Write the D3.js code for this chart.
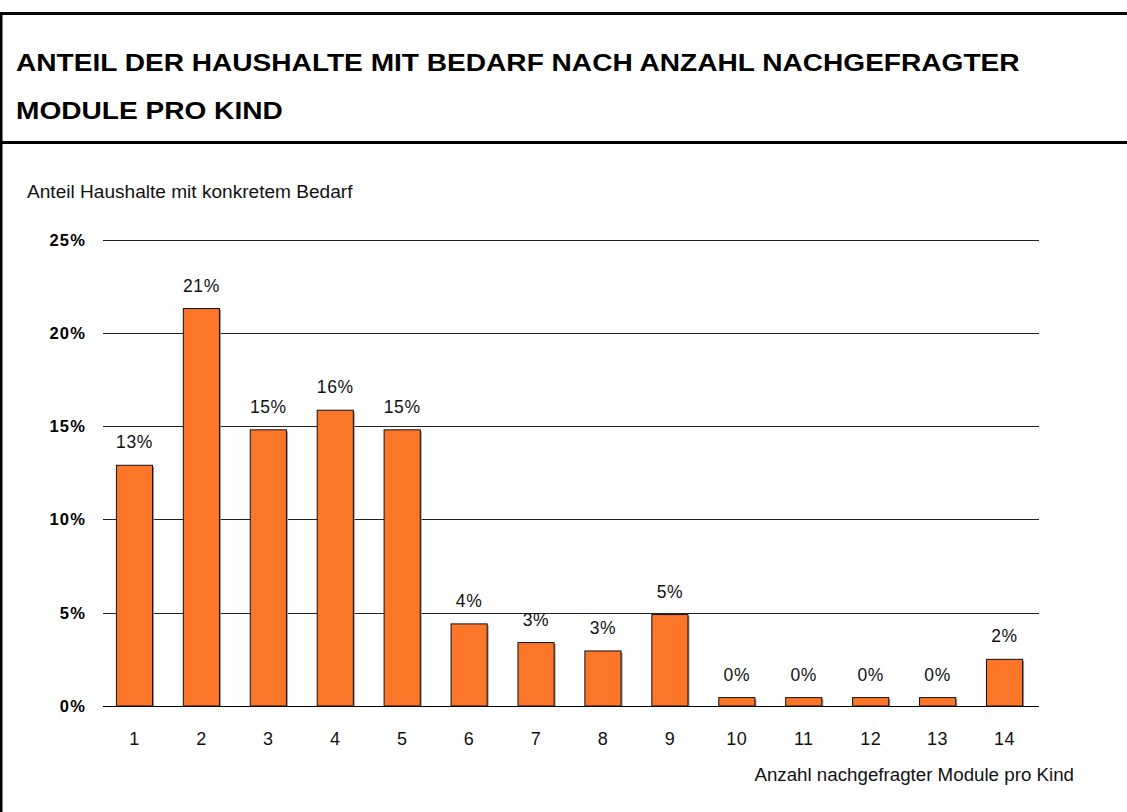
<!DOCTYPE html>
<html>
<head>
<meta charset="utf-8">
<script src="https://cdn.jsdelivr.net/npm/d3@7"></script>
<style>
  body { margin: 0; background: #fff; }
  svg { display: block; font-family: "Liberation Sans", Arial, sans-serif; }
</style>
</head>
<body>
<svg id="chart" width="1127" height="812"></svg>
<script>
// data
var modules = ["1","2","3","4","5","6","7","8","9","10","11","12","13","14"];
var shares = [12.9, 21.3, 14.8, 15.85, 14.8, 4.4, 3.4, 2.95, 4.9, 0.45, 0.45, 0.45, 0.45, 2.5];
var shareLabels = ["13%","21%","15%","16%","15%","4%","3%","3%","5%","0%","0%","0%","0%","2%"];
var yTicks = [0, 5, 10, 15, 20, 25];
var titleLines = ["ANTEIL DER HAUSHALTE MIT BEDARF NACH ANZAHL NACHGEFRAGTER", "MODULE PRO KIND"];
var yTitle = "Anteil Haushalte mit konkretem Bedarf";
var xTitle = "Anzahl nachgefragter Module pro Kind";

var svg = d3.select("#chart");
var W = 1127, H = 812;

// the original text is drawn a bit wider than the font, stretch it
function stretch(sel, k) {
    sel.each(function() {
        var len = this.getComputedTextLength();
        d3.select(this)
            .attr("textLength", len * k)
            .attr("lengthAdjust", "spacingAndGlyphs");
    });
}

// frame
svg.append("line").attr("x1", 0).attr("x2", W).attr("y1", 13.5).attr("y2", 13.5)
    .attr("stroke", "#000").attr("stroke-width", 3);
svg.append("line").attr("x1", 0).attr("x2", W).attr("y1", 142.5).attr("y2", 142.5)
    .attr("stroke", "#000").attr("stroke-width", 3);
svg.append("line").attr("x1", 1).attr("x2", 1).attr("y1", 12).attr("y2", H)
    .attr("stroke", "#000").attr("stroke-width", 3);

// title
svg.selectAll(".title")
    .data(titleLines)
    .enter()
    .append("text")
    .attr("class", "title")
    .attr("x", 16)
    .attr("y", function(d, i) { return 71 + i * 47.5; })
    .style("font-size", "24px")
    .style("font-weight", "bold")
    .attr("fill", "#000")
    .text(function(d) { return d; })
    .call(stretch, 1.17);

var x = d3.scaleBand()
    .domain(modules)
    .range([101, 1038])
    .paddingInner(0.46)
    .paddingOuter(0.23);

var y = d3.scaleLinear()
    .domain([0, 25])
    .range([706, 239.5]);

// gridlines
svg.append("g")
    .selectAll("line")
    .data(yTicks)
    .enter()
    .append("line")
    .attr("x1", 103)
    .attr("x2", 1039)
    .attr("y1", function(d) { return Math.round(y(d)) + 0.5; })
    .attr("y2", function(d) { return Math.round(y(d)) + 0.5; })
    .attr("stroke", function(d) { return d === 0 ? "#000" : "#222"; })
    .attr("stroke-width", 1);

// y tick labels
svg.append("g")
    .selectAll("text")
    .data(yTicks)
    .enter()
    .append("text")
    .attr("x", 86)
    .attr("y", function(d) { return y(d) + 6; })
    .attr("text-anchor", "end")
    .style("font-size", "16.5px")
    .style("font-weight", "bold")
    .style("letter-spacing", "1.2px")
    .attr("fill", "#000")
    .text(function(d) { return d + "%"; });

// bar shadows
svg.append("g")
    .selectAll("rect")
    .data(shares)
    .enter()
    .append("rect")
    .attr("x", function(d, i) { return x(modules[i]) + 1.5; })
    .attr("y", function(d) { return y(d) + 1.5; })
    .attr("width", x.bandwidth())
    .attr("height", function(d) { return y(0) - y(d) - 1.5; })
    .attr("fill", "#9a9a9a");

// bars
svg.append("g")
    .selectAll("rect")
    .data(shares)
    .enter()
    .append("rect")
    .attr("x", function(d, i) { return x(modules[i]); })
    .attr("y", function(d) { return y(d); })
    .attr("width", x.bandwidth())
    .attr("height", function(d) { return y(0) - y(d); })
    .attr("fill", "#fb7629")
    .attr("stroke", "#111")
    .attr("stroke-width", 1);

// value labels
svg.append("g")
    .selectAll("text")
    .data(shares)
    .enter()
    .append("text")
    .attr("x", function(d, i) { return x(modules[i]) + x.bandwidth() / 2; })
    .attr("y", function(d) { return y(d) - 17; })
    .attr("text-anchor", "middle")
    .style("font-size", "17.5px")
    .style("letter-spacing", "0.6px")
    .attr("fill", "#111")
    .text(function(d, i) { return shareLabels[i]; });

// x tick labels
svg.append("g")
    .selectAll("text")
    .data(modules)
    .enter()
    .append("text")
    .attr("x", function(d) { return x(d) + x.bandwidth() / 2; })
    .attr("y", 745)
    .attr("text-anchor", "middle")
    .style("font-size", "18px")
    .style("letter-spacing", "0.5px")
    .attr("fill", "#111")
    .text(function(d) { return d; });

// axis titles
svg.append("text")
    .attr("x", 27)
    .attr("y", 198)
    .style("font-size", "17.5px")
    .attr("fill", "#111")
    .text(yTitle)
    .call(stretch, 1.09);

var xt = svg.append("text")
    .attr("y", 781)
    .style("font-size", "17.5px")
    .attr("fill", "#111")
    .text(xTitle)
    .call(stretch, 1.07);
xt.attr("x", 1074 - (+xt.attr("textLength")));
</script>
</body>
</html>
